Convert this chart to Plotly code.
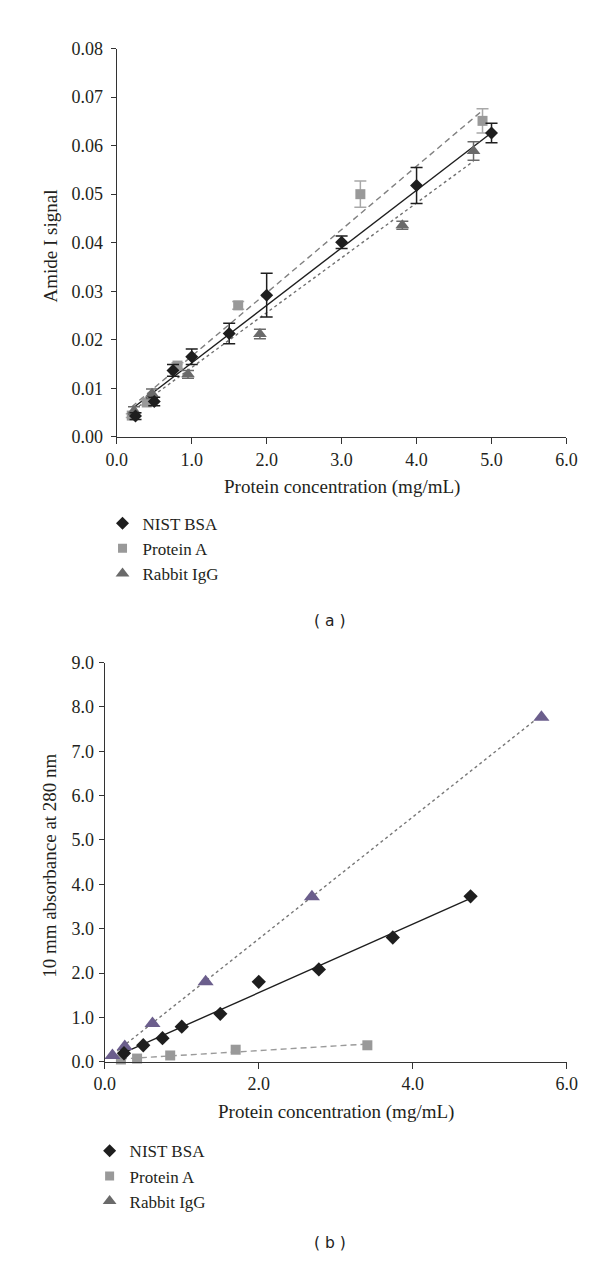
import plotly.graph_objects as go

# ---------------- Panel (a): Amide I signal ----------------
bsa_a_x = [0.25, 0.50, 0.75, 1.00, 1.50, 2.00, 3.00, 4.00, 5.00]
bsa_a_y = [0.0043, 0.0073, 0.0137, 0.0165, 0.0213, 0.0292, 0.0401, 0.0518, 0.0626]
bsa_a_err = [0.0007, 0.0009, 0.0012, 0.0016, 0.0021, 0.0045, 0.0013, 0.0037, 0.0020]

protA_a_x = [0.20, 0.40, 0.81, 1.62, 3.25, 4.88]
protA_a_y = [0.0044, 0.0071, 0.0147, 0.0271, 0.0500, 0.0651]
protA_a_err = [0.0004, 0.0005, 0.0006, 0.0008, 0.0027, 0.0025]

igg_a_x = [0.23, 0.47, 0.95, 1.91, 3.81, 4.76]
igg_a_y = [0.0054, 0.0089, 0.0129, 0.0212, 0.0436, 0.0589]
igg_a_err = [0.0008, 0.0010, 0.0008, 0.0010, 0.0008, 0.0019]

# linear trendlines (slope, intercept)
fit_a = {"bsa": (0.01185, 0.0034), "protA": (0.01304, 0.0036), "igg": (0.0113, 0.0030)}

# ---------------- Panel (b): absorbance at 280 nm ----------------
bsa_b_x = [0.25, 0.50, 0.75, 1.00, 1.50, 2.00, 2.78, 3.74, 4.75]
bsa_b_y = [0.19, 0.37, 0.53, 0.79, 1.08, 1.80, 2.08, 2.80, 3.73]

protA_b_x = [0.21, 0.42, 0.85, 1.70, 3.41]
protA_b_y = [0.05, 0.07, 0.14, 0.27, 0.37]

igg_b_x = [0.10, 0.26, 0.62, 1.31, 2.69, 5.67]
igg_b_y = [0.14, 0.34, 0.86, 1.80, 3.72, 7.77]

fit_b = {"bsa": (0.773, 0.01), "protA": (0.105, 0.04), "igg": (1.375, 0.02)}

series_names = ["NIST BSA", "Protein A", "Rabbit IgG"]

SERIF = "Liberation Serif, Times New Roman, serif"
TXT = "#231f20"
AX = "#333333"
BLACK = "#1e1e1e"
GRAY_A = "#999999"
GRAY_ERR = "#a8a8a8"
DARK = "#6a6a6a"
PURPLE = "#6b5e8c"

W, H = 600, 1261


def px_x(p):
    return p / W


def px_y(p):
    return (H - p) / H


def fit_line(xs, params):
    m, b = params
    x0, x1 = min(xs), max(xs)
    return [x0, x1], [m * x0 + b, m * x1 + b]


fig = go.Figure()

# ----- trendlines panel (a)
for key, xs, dash, color in [("protA", protA_a_x, "6px,4px", "#808080"),
                              ("igg", igg_a_x, "dot", "#707070"),
                              ("bsa", bsa_a_x, "solid", BLACK)]:
    lx, ly = fit_line(xs, fit_a[key])
    fig.add_trace(go.Scatter(x=lx, y=ly, mode="lines", xaxis="x", yaxis="y",
                             line=dict(color=color, width=1.4, dash=dash),
                             showlegend=False, hoverinfo="skip"))

# ----- markers panel (a)
fig.add_trace(go.Scatter(x=protA_a_x, y=protA_a_y, mode="markers", xaxis="x", yaxis="y",
                         marker=dict(symbol="square", size=10, color=GRAY_A),
                         error_y=dict(type="data", array=protA_a_err, color=GRAY_ERR,
                                      thickness=1.5, width=6),
                         showlegend=False, cliponaxis=False))
fig.add_trace(go.Scatter(x=igg_a_x, y=igg_a_y, mode="markers", xaxis="x", yaxis="y",
                         marker=dict(symbol="triangle-up", size=12, color=DARK),
                         error_y=dict(type="data", array=igg_a_err, color=DARK,
                                      thickness=1.5, width=6),
                         showlegend=False, cliponaxis=False))
fig.add_trace(go.Scatter(x=bsa_a_x, y=bsa_a_y, mode="markers", xaxis="x", yaxis="y",
                         marker=dict(symbol="diamond", size=10, color=BLACK),
                         error_y=dict(type="data", array=bsa_a_err, color=BLACK,
                                      thickness=1.5, width=6),
                         showlegend=False, cliponaxis=False))

# ----- trendlines panel (b)
for key, xs, dash, color in [("protA", protA_b_x, "6px,4px", "#9a9a9a"),
                              ("igg", igg_b_x, "dot", "#777777"),
                              ("bsa", bsa_b_x, "solid", BLACK)]:
    lx, ly = fit_line(xs, fit_b[key])
    fig.add_trace(go.Scatter(x=lx, y=ly, mode="lines", xaxis="x2", yaxis="y2",
                             line=dict(color=color, width=1.4, dash=dash),
                             showlegend=False, hoverinfo="skip"))

# ----- markers panel (b)
fig.add_trace(go.Scatter(x=protA_b_x, y=protA_b_y, mode="markers", xaxis="x2", yaxis="y2",
                         marker=dict(symbol="square", size=10, color=GRAY_A),
                         showlegend=False, cliponaxis=False))
fig.add_trace(go.Scatter(x=igg_b_x, y=igg_b_y, mode="markers", xaxis="x2", yaxis="y2",
                         marker=dict(symbol="triangle-up", size=14, color=PURPLE),
                         showlegend=False, cliponaxis=False))
fig.add_trace(go.Scatter(x=bsa_b_x, y=bsa_b_y, mode="markers", xaxis="x2", yaxis="y2",
                         marker=dict(symbol="diamond", size=11, color=BLACK),
                         showlegend=False, cliponaxis=False))

# ----- legend entries
leg_markers = [dict(symbol="diamond", size=10, color=BLACK),
               dict(symbol="square", size=9, color=GRAY_A),
               dict(symbol="triangle-up", size=12, color=DARK)]
for lg, xa, ya in [("legend", "x", "y"), ("legend2", "x2", "y2")]:
    for name, mk in zip(series_names, leg_markers):
        fig.add_trace(go.Scatter(x=[None], y=[None], mode="markers", name=name,
                                 marker=mk, xaxis=xa, yaxis=ya, legend=lg))

axis_common = dict(showline=True, linecolor=AX, linewidth=1.4, ticks="outside",
                   ticklen=5, tickwidth=1.4, tickcolor=AX, showgrid=False,
                   zeroline=False, fixedrange=True,
                   tickfont=dict(family=SERIF, size=18, color=TXT))

fig.update_layout(
    width=W, height=H,
    margin=dict(l=0, r=0, t=0, b=0),
    paper_bgcolor="white", plot_bgcolor="white",
    xaxis=dict(axis_common, domain=[px_x(101.5), px_x(568.3)], range=[0, 6], dtick=1,
               tick0=0, tickformat=".1f", anchor="y", ticklen=6),
    yaxis=dict(axis_common, domain=[px_y(425.7), px_y(31)], range=[0, 0.08], dtick=0.01,
               tick0=0, tickformat=".2f", anchor="x", ticklabelstandoff=4),
    xaxis2=dict(axis_common, domain=[px_x(89), px_x(568.7)], range=[0, 6], dtick=2,
                tick0=0, tickformat=".1f", anchor="y2", ticklen=6),
    yaxis2=dict(axis_common, domain=[px_y(1060.5), px_y(655)], range=[0, 9], dtick=1,
                tick0=0, tickformat=".1f", anchor="x2", ticklabelstandoff=1),
    legend=dict(x=px_x(86.7), y=px_y(495.5), xanchor="left", yanchor="top",
                font=dict(family=SERIF, size=17, color=TXT), bgcolor="rgba(0,0,0,0)",
                itemwidth=30, tracegroupgap=0),
    legend2=dict(x=px_x(73.3), y=px_y(1133.2), xanchor="left", yanchor="top",
                 font=dict(family=SERIF, size=17, color=TXT), bgcolor="rgba(0,0,0,0)",
                 itemwidth=30, tracegroupgap=0),
    showlegend=True,
)

title_font = dict(family=SERIF, size=19, color=TXT)
annotations = [
    dict(text="Protein concentration (mg/mL)", x=px_x(334.9), y=px_y(476.7)),
    dict(text="Amide I signal", x=px_x(32.3), y=px_y(232), textangle=-90),
    dict(text="Protein concentration (mg/mL)", x=px_x(328.8), y=px_y(1111.7)),
    dict(text="10 mm absorbance at 280 nm", x=px_x(31.7), y=px_y(862), textangle=-90),
]
for a in annotations:
    fig.add_annotation(xref="paper", yref="paper", showarrow=False,
                       xanchor="center", yanchor="middle", font=title_font, **a)

cap_font = dict(family="DejaVu Sans, Verdana, sans-serif", size=15.5, color="#222222")
fig.add_annotation(text="( a )", x=px_x(322), y=px_y(613), xref="paper", yref="paper",
                   showarrow=False, font=cap_font, xanchor="center", yanchor="middle")
fig.add_annotation(text="( b )", x=px_x(323), y=px_y(1245), xref="paper", yref="paper",
                   showarrow=False, font=cap_font, xanchor="center", yanchor="middle")

fig.write_html("out.html")
